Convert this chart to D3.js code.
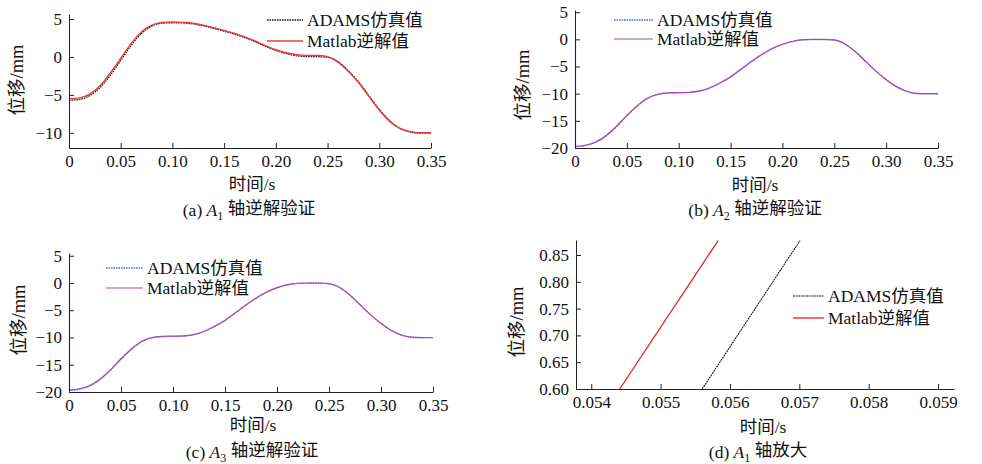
<!DOCTYPE html>
<html>
<head>
<meta charset="utf-8">
<script src="https://cdn.jsdelivr.net/npm/d3@7"></script>
<style>
  body { margin: 0; background: #fff; }
  svg text { font-family: "Liberation Serif", "Noto Sans CJK SC", serif; fill: #111; }
</style>
</head>
<body>
<svg id="chart" width="982" height="464"></svg>
<script>
// temps (s) commun aux courbes a, b, c
const times = [0, 0.01, 0.02, 0.03, 0.04, 0.05, 0.06, 0.07, 0.08, 0.09, 0.10, 0.11, 0.12,
  0.13, 0.14, 0.15, 0.16, 0.17, 0.18, 0.19, 0.20, 0.21, 0.22, 0.23, 0.24, 0.25, 0.26,
  0.27, 0.28, 0.29, 0.30, 0.31, 0.32, 0.33, 0.34, 0.35];

// (a) axe A1
const a1Matlab = [-5.5, -5.4, -4.9, -3.8, -2.1, -0.2, 1.75, 3.3, 4.2, 4.55, 4.6, 4.55, 4.45,
  4.2, 3.85, 3.5, 3.1, 2.65, 2.1, 1.5, 0.95, 0.55, 0.3, 0.2, 0.2, 0.05, -0.7,
  -1.9, -3.4, -5.2, -7.0, -8.5, -9.4, -9.85, -10, -10];
const a1Adams = [-5.7, -5.6, -5.1, -4.05, -2.4, -0.45, 1.5, 3.1, 4.05, 4.45, 4.5, 4.48, 4.35,
  4.1, 3.75, 3.4, 3.0, 2.55, 2.0, 1.4, 0.85, 0.45, 0.15, 0.05, 0.03, -0.05, -0.6,
  -1.8, -3.3, -5.1, -6.9, -8.4, -9.4, -9.9, -10.05, -10.05];

// (b) axe A2
const a2AdamsStart = 0;
const a2Matlab = [-19.7, -19.5, -18.9, -17.7, -16.0, -14.0, -12.2, -10.8, -10.1, -9.85, -9.8, -9.75, -9.5,
  -8.9, -8.0, -6.9, -5.5, -4.1, -2.8, -1.7, -0.9, -0.35, -0.05, 0, 0, -0.1, -0.8,
  -2.2, -4.0, -5.8, -7.4, -8.7, -9.55, -9.95, -10, -10];
const a2Adams = [-19.75, -19.55, -18.95, -17.8, -16.1, -14.1, -12.3, -10.9, -10.15, -9.9, -9.85, -9.8, -9.55,
  -8.95, -8.05, -6.95, -5.55, -4.15, -2.85, -1.75, -0.95, -0.4, -0.1, -0.05, -0.05, -0.15, -0.85,
  -2.25, -4.05, -5.85, -7.45, -8.75, -9.6, -10, -10.05, -10.05];

// (c) axe A3
const a3AdamsStart = 0;
const a3Matlab = [-19.6, -19.4, -18.8, -17.6, -15.9, -13.9, -12.1, -10.7, -10.0, -9.8, -9.75, -9.7, -9.45,
  -8.85, -7.95, -6.85, -5.45, -4.05, -2.75, -1.65, -0.85, -0.3, -0.05, 0, 0, -0.1, -0.8,
  -2.2, -4.0, -5.8, -7.4, -8.7, -9.55, -9.95, -10, -10];
const a3Adams = [-19.7, -19.5, -18.9, -17.7, -16.0, -14.0, -12.2, -10.8, -10.05, -9.85, -9.8, -9.75, -9.5,
  -8.9, -8.0, -6.9, -5.5, -4.1, -2.8, -1.7, -0.9, -0.35, -0.1, -0.05, -0.05, -0.15, -0.85,
  -2.25, -4.05, -5.85, -7.45, -8.75, -9.6, -10, -10.05, -10.05];

// (d) zoom A1
const zoomMatlabT = [0.05441, 0.05583];
const zoomMatlabV = [0.600, 0.877];
const zoomAdamsT = [0.05560, 0.05701];
const zoomAdamsV = [0.600, 0.877];

// ticks
const timeTicks = [0, 0.05, 0.10, 0.15, 0.20, 0.25, 0.30, 0.35];
const a1Ticks = [-10, -5, 0, 5];
const a23Ticks = [-20, -15, -10, -5, 0, 5];
const zoomTimeTicks = [0.054, 0.055, 0.056, 0.057, 0.058, 0.059];
const zoomValTicks = [0.60, 0.65, 0.70, 0.75, 0.80, 0.85];

const legendNames = ['ADAMS仿真值', 'Matlab逆解值'];

const svg = d3.select('#chart');

function zip(t, v) {
    return t.map((d, i) => ({ t: d, v: v[i] }));
}

/**
 * Dessine un sous-graphique
 */
function drawPanel(p) {
    const x = d3.scaleLinear().domain(p.xDomain).range([p.left, p.right]);
    const y = d3.scaleLinear().domain(p.yDomain).range([p.bottom, p.top]);
    const g = svg.append('g');

    const line = d3.line()
        .x(d => x(d.t))
        .y(d => y(d.v))
        .curve(p.curve || d3.curveMonotoneX);

    // courbes : ADAMS d'abord, Matlab par-dessus
    p.series.forEach(s => {
        if (s.start !== undefined) {
            g.append('line')
                .attr('x1', x(s.data[0].t) + 0.5).attr('x2', x(s.data[0].t) + 0.5)
                .attr('y1', y(s.start)).attr('y2', y(s.data[0].v))
                .attr('stroke', s.color)
                .attr('stroke-width', s.width)
                .attr('stroke-dasharray', s.dash || null);
        }
        g.append('path')
            .datum(s.data)
            .attr('fill', 'none')
            .attr('stroke', s.color)
            .attr('stroke-width', s.width)
            .attr('stroke-dasharray', s.dash || null)
            .attr('d', line);
    });

    // axes (ticks vers l'intérieur)
    const xAxis = d3.axisBottom(x).tickValues(p.xTicks).tickFormat(p.xFormat)
        .tickSizeInner(-5).tickSizeOuter(0).tickPadding(7);
    const yAxis = d3.axisLeft(y).tickValues(p.yTicks).tickFormat(p.yFormat)
        .tickSizeInner(-5).tickSizeOuter(0).tickPadding(7);

    const gx = g.append('g').attr('transform', `translate(0,${p.bottom})`).call(xAxis);
    const gy = g.append('g').attr('transform', `translate(${p.left},0)`).call(yAxis);
    [gx, gy].forEach(a => {
        a.attr('font-family', null).attr('font-size', null);
        a.selectAll('path, line').attr('stroke', '#222').attr('stroke-width', 1);
        a.selectAll('text')
            .style('font-size', '17px')
            .style('font-family', '"Liberation Serif", serif')
            .attr('fill', '#111');
    });
    gx.selectAll('text').attr('dy', '0.71em');

    // légende
    legendNames.forEach((name, i) => {
        const s = p.series[i];
        const ly = p.legend.y[i];
        g.append('line')
            .attr('x1', p.legend.x0).attr('x2', p.legend.x1)
            .attr('y1', ly).attr('y2', ly)
            .attr('stroke', s.color)
            .attr('stroke-width', s.width)
            .attr('stroke-dasharray', s.dash || null);
        g.append('text')
            .attr('x', p.legend.x1 + 4)
            .attr('y', ly)
            .attr('dy', '0.35em')
            .style('font-size', '17.5px')
            .text(name);
    });

    // titres des axes
    g.append('text')
        .attr('x', p.xLabel[0]).attr('y', p.xLabel[1])
        .attr('text-anchor', 'middle')
        .attr('dy', '0.35em')
        .style('font-size', '17.5px')
        .text('时间/s');

    g.append('text')
        .attr('transform', `translate(${p.yLabel[0]},${p.yLabel[1]}) rotate(-90)`)
        .attr('text-anchor', 'middle')
        .attr('dy', '0.35em')
        .style('font-size', '18.5px')
        .text('位移/mm');

    // légende de la figure
    const cap = g.append('text')
        .attr('x', p.caption.x).attr('y', p.caption.y)
        .attr('text-anchor', 'middle')
        .attr('dy', '0.35em')
        .style('font-size', '17.5px');
    cap.append('tspan').text(p.caption.tag + ' ');
    cap.append('tspan').style('font-style', 'italic').text('A');
    cap.append('tspan').attr('dy', '0.3em').style('font-size', '12px').text(p.caption.sub);
    cap.append('tspan').attr('dy', '-0.3em').text(' ' + p.caption.rest);
}

const fmtTime = d => d === 0 ? '0' : d3.format('.2f')(d);
const fmtInt = d3.format('d');

const black = { color: '#1a1a1a', width: 1.3, dash: '1.6,0.9' };
const red = { color: '#ee3a3a', width: 1.4 };
const blue = { color: '#5474d6', width: 1.3, dash: '1.6,0.9' };
const purple = { color: '#a848b8', width: 1.2 };

drawPanel({
    left: 69, right: 431, top: 14, bottom: 148,
    xDomain: [0, 0.35], yDomain: [-12, 5.66],
    xTicks: timeTicks, yTicks: a1Ticks, xFormat: fmtTime, yFormat: fmtInt,
    series: [
        Object.assign({ data: zip(times, a1Adams) }, black),
        Object.assign({ data: zip(times, a1Matlab) }, red)
    ],
    legend: { x0: 267, x1: 303, y: [20, 41] },
    xLabel: [252, 184], yLabel: [17, 80],
    caption: { x: 249, y: 210, tag: '(a)', sub: '1', rest: '轴逆解验证' }
});

drawPanel({
    left: 575, right: 938, top: 10, bottom: 148,
    xDomain: [0, 0.35], yDomain: [-20, 5.4],
    xTicks: timeTicks, yTicks: a23Ticks, xFormat: fmtTime, yFormat: fmtInt,
    series: [
        Object.assign({ data: zip(times, a2Adams), start: a2AdamsStart }, blue),
        Object.assign({ data: zip(times, a2Matlab) }, purple)
    ],
    legend: { x0: 614, x1: 653, y: [20, 39] },
    xLabel: [755, 185], yLabel: [523, 85],
    caption: { x: 755, y: 210, tag: '(b)', sub: '2', rest: '轴逆解验证' }
});

drawPanel({
    left: 69, right: 433, top: 253, bottom: 392,
    xDomain: [0, 0.35], yDomain: [-20, 5.5],
    xTicks: timeTicks, yTicks: a23Ticks, xFormat: fmtTime, yFormat: fmtInt,
    series: [
        Object.assign({ data: zip(times, a3Adams), start: a3AdamsStart }, blue),
        Object.assign({ data: zip(times, a3Matlab) }, purple)
    ],
    legend: { x0: 106, x1: 143, y: [268, 288] },
    xLabel: [253, 425], yLabel: [19, 320],
    caption: { x: 252, y: 452, tag: '(c)', sub: '3', rest: '轴逆解验证' }
});

drawPanel({
    left: 576, right: 954, top: 240, bottom: 389,
    xDomain: [0.05378, 0.05923], yDomain: [0.6, 0.878],
    xTicks: zoomTimeTicks, yTicks: zoomValTicks,
    xFormat: d3.format('.3f'), yFormat: d3.format('.2f'),
    curve: d3.curveLinear,
    series: [
        Object.assign({}, black, { data: zip(zoomAdamsT, zoomAdamsV), width: 1.1, color: '#222', dash: '2,0.6' }),
        Object.assign({}, red, { data: zip(zoomMatlabT, zoomMatlabV), width: 1.3, color: '#e82020' })
    ],
    legend: { x0: 793, x1: 824, y: [296, 318] },
    xLabel: [763, 427], yLabel: [517, 322],
    caption: { x: 758, y: 452, tag: '(d)', sub: '1', rest: '轴放大' }
});
</script>
</body>
</html>
